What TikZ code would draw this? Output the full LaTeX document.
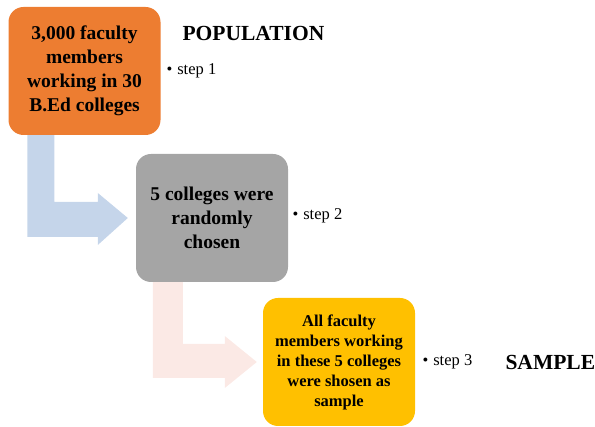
\documentclass[tikz,border=0pt]{standalone}
\usepackage{fontspec}
\setmainfont{Liberation Serif}
\usepackage{tikz}

\definecolor{boxorange}{HTML}{ED7D31}
\definecolor{boxgray}{HTML}{A5A5A5}
\definecolor{boxgold}{HTML}{FFC000}
\definecolor{arrowblue}{HTML}{C5D5EA}
\definecolor{arrowpink}{HTML}{FBE9E5}

\tikzset{
	stepbox/.style={rounded corners=15pt, minimum width=152pt, minimum height=128pt,
		align=center, inner sep=2pt},
	bigtext/.style={font=\fontsize{19.5}{24}\selectfont\bfseries},
	smalltext/.style={font=\fontsize{16.5}{20}\selectfont\bfseries},
	steplabel/.style={anchor=west, font=\fontsize{16.5}{18}\selectfont},
	heading/.style={anchor=west, font=\fontsize{21.5}{24}\selectfont\bfseries}
}

\begin{document}
\begin{tikzpicture}[x=1pt, y=-1pt]
	\useasboundingbox (0,0) rectangle (595,427);
	
	\node[stepbox, bigtext, fill=boxorange] (pop) at (84.5,71)
		{3,000 faculty\\ members\\ working in 30\\ B.Ed colleges};
	\node[stepbox, bigtext, fill=boxgray] (rand) at (212,218)
		{5 colleges were\\ randomly\\ chosen};
	\node[stepbox, smalltext, fill=boxgold] (samp) at (339,362)
		{All faculty\\ members working\\ in these 5 colleges\\ were shosen as\\ sample};
	
	\node[heading] (poptitle) at (179,33) {POPULATION};
	\node[steplabel] (step1) at (163,71) {\textbullet\hspace{5pt}step 1};
	\node[steplabel] (step2) at (289,216) {\textbullet\hspace{5pt}step 2};
	\node[steplabel] (step3) at (419,362) {\textbullet\hspace{5pt}step 3};
	\node[heading] (samptitle) at (502,362) {SAMPLE};
	
	% bent arrows
	\coordinate (a1) at ([xshift=19pt]pop.south west);
	\coordinate (t1) at ([xshift=-8pt]rand.west);
	\fill[arrowblue] (a1) -- ++(27,0) |- ([xshift=-30pt,yshift=16pt]t1)
		-- ++(0,-9) -- (t1) -- ++(-30,27) -- ++(0,-8) -| cycle;
	
	\coordinate (a2) at ([xshift=17pt]rand.south west);
	\coordinate (t2) at ([xshift=-6pt]samp.west);
	\fill[arrowpink] (a2) -- ++(30,0) |- ([xshift=-32pt,yshift=18pt]t2)
		-- ++(0,-8) -- (t2) -- ++(-32,26) -- ++(0,-10) -| cycle;
\end{tikzpicture}
\end{document}
